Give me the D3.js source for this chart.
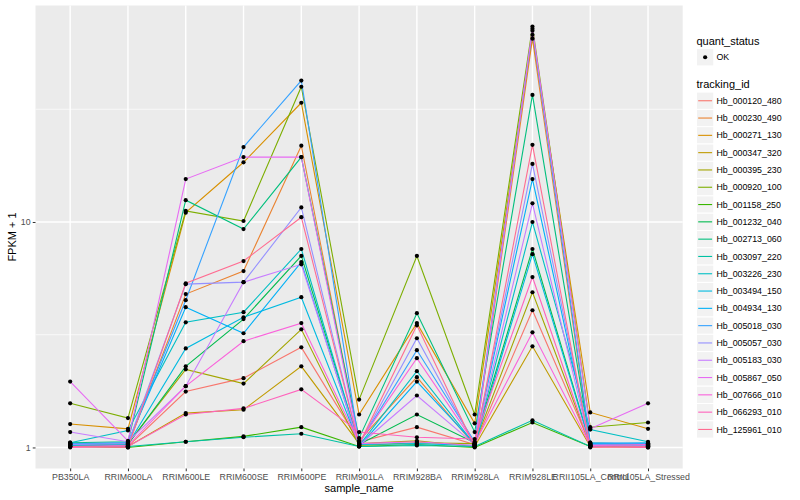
<!DOCTYPE html>
<html>
<head>
<meta charset="utf-8">
<script src="https://cdn.jsdelivr.net/npm/d3@7"></script>
<style>
  body { margin: 0; background: #fff; }
  text { font-family: "Liberation Sans", Arial, Helvetica, sans-serif; }
</style>
</head>
<body>
<svg id="chart" width="800" height="500"></svg>
<script>
var samples = ["PB350LA", "RRIM600LA", "RRIM600LE", "RRIM600SE", "RRIM600PE", "RRIM901LA",
    "RRIM928BA", "RRIM928LA", "RRIM928LE", "RRII105LA_Control", "RRII105LA_Stressed"];

var trackingIds = ["Hb_000120_480", "Hb_000230_490", "Hb_000271_130", "Hb_000347_320", "Hb_000395_230",
    "Hb_000920_100", "Hb_001158_250", "Hb_001232_040", "Hb_002713_060", "Hb_003097_220",
    "Hb_003226_230", "Hb_003494_150", "Hb_004934_130", "Hb_005018_030", "Hb_005057_030",
    "Hb_005183_030", "Hb_005867_050", "Hb_007666_010", "Hb_066293_010", "Hb_125961_010"];

var trackColors = ["#F8766D", "#EA8331", "#D89000", "#C09B00", "#A3A500", "#7CAE00", "#39B600",
    "#00BB4E", "#00BF7D", "#00C1A3", "#00BFC4", "#00BAE0", "#00B0F6", "#35A2FF", "#9590FF",
    "#C77CFF", "#E76BF3", "#FA62DB", "#FF62BC", "#FF6C91"];

// FPKM + 1, one row per tracking_id, one column per sample
var fpkmPlus1 = [
    [1.01, 1.01, 1.77, 2.03, 2.78, 1.06, 1.23, 1.03, 4.06, 1.03, 1.02],
    [1.04, 1.02, 4.79, 6.06, 21.8, 1.07, 2.05, 1.02, 65.0, 1.02, 1.01],
    [1.27, 1.21, 11.0, 18.4, 33.8, 1.40, 3.56, 1.28, 67.6, 1.43, 1.21],
    [1.03, 1.01, 1.42, 1.47, 2.29, 1.04, 1.07, 1.01, 2.81, 1.01, 1.00],
    [1.02, 1.04, 2.22, 1.92, 3.34, 1.02, 1.05, 1.04, 4.88, 1.02, 1.03],
    [1.57, 1.35, 11.2, 10.1, 39.8, 1.63, 7.07, 1.40, 73.6, 1.23, 1.29],
    [1.01, 1.00, 1.06, 1.12, 1.23, 1.01, 1.03, 1.00, 1.29, 1.01, 1.01],
    [1.04, 1.03, 2.29, 3.71, 7.07, 1.03, 1.40, 1.05, 7.59, 1.04, 1.02],
    [1.05, 1.06, 12.5, 9.30, 19.4, 1.10, 3.94, 1.17, 36.6, 1.05, 1.03],
    [1.03, 1.01, 1.06, 1.11, 1.15, 1.01, 1.02, 1.01, 1.32, 1.01, 1.04],
    [1.05, 1.19, 3.59, 3.98, 7.59, 1.02, 2.18, 1.03, 10.0, 1.20, 1.06],
    [1.02, 1.03, 2.75, 3.78, 4.64, 1.03, 1.04, 1.02, 7.20, 1.03, 1.04],
    [1.03, 1.05, 4.19, 3.21, 6.64, 1.01, 1.96, 1.04, 15.5, 1.04, 1.05],
    [1.04, 1.05, 4.50, 21.5, 42.4, 1.04, 2.70, 1.06, 70.5, 1.05, 1.04],
    [1.03, 1.04, 5.30, 5.41, 11.6, 1.03, 3.05, 1.03, 18.1, 1.03, 1.02],
    [1.17, 1.06, 1.87, 5.41, 6.49, 1.02, 1.70, 1.03, 12.1, 1.02, 1.01],
    [1.96, 1.07, 15.5, 19.4, 19.4, 1.04, 1.06, 1.02, 71.9, 1.21, 1.57],
    [1.01, 1.02, 1.87, 2.96, 3.56, 1.05, 2.49, 1.04, 3.24, 1.02, 1.03],
    [1.00, 1.01, 1.40, 1.49, 1.81, 1.17, 1.11, 1.09, 5.70, 1.01, 1.00],
    [1.01, 1.00, 5.35, 6.71, 10.5, 1.03, 3.48, 1.01, 22.0, 1.00, 1.01]
];

var yMajorTicks = [1, 10];
var yMinorTicks = [3.1623, 31.623];
var quantStatus = ["OK"];

var svg = d3.select("#chart");
var panelL = 35.5, panelR = 682.7, panelT = 5.5, panelB = 468.5;

svg.append("rect").attr("width", 800).attr("height", 500).attr("fill", "#fff");
svg.append("rect")
    .attr("x", panelL).attr("y", panelT)
    .attr("width", panelR - panelL).attr("height", panelB - panelT)
    .attr("fill", "#EBEBEB");

var x = d3.scalePoint().domain(samples).range([panelL, panelR]).padding(0.6);

// log scale with ggplot's 5% expansion in log space
var allVals = d3.merge(fpkmPlus1);
var lmin = Math.log10(d3.min(allVals)), lmax = Math.log10(d3.max(allVals));
var pad = (lmax - lmin) * 0.05;
var y = d3.scaleLog()
    .domain([Math.pow(10, lmin - pad), Math.pow(10, lmax + pad)])
    .range([panelB, panelT]);

// grid
svg.selectAll(".minor").data(yMinorTicks).enter().append("line")
    .attr("x1", panelL).attr("x2", panelR)
    .attr("y1", function(d) { return y(d); })
    .attr("y2", function(d) { return y(d); })
    .attr("stroke", "#fff").attr("stroke-width", 0.7);
svg.selectAll(".major").data(yMajorTicks).enter().append("line")
    .attr("x1", panelL).attr("x2", panelR)
    .attr("y1", function(d) { return y(d); })
    .attr("y2", function(d) { return y(d); })
    .attr("stroke", "#fff").attr("stroke-width", 1.4);
svg.selectAll(".vgrid").data(samples).enter().append("line")
    .attr("x1", function(d) { return x(d); })
    .attr("x2", function(d) { return x(d); })
    .attr("y1", panelT).attr("y2", panelB)
    .attr("stroke", "#fff").attr("stroke-width", 1.4);

// lines
var line = d3.line()
    .x(function(d, i) { return x(samples[i]); })
    .y(function(d) { return y(d); });

svg.selectAll(".series").data(fpkmPlus1).enter().append("path")
    .attr("d", line)
    .attr("fill", "none")
    .attr("stroke", function(d, i) { return trackColors[i]; })
    .attr("stroke-width", 1.1);

// points
fpkmPlus1.forEach(function(row) {
    svg.selectAll(null).data(row).enter().append("circle")
        .attr("cx", function(d, i) { return x(samples[i]); })
        .attr("cy", function(d) { return y(d); })
        .attr("r", 2.1)
        .attr("fill", "#000");
});

// axes
var xAxis = svg.append("g").attr("transform", "translate(0," + panelB + ")")
    .call(d3.axisBottom(x).tickSize(2.75).tickPadding(2.2));
var yAxis = svg.append("g").attr("transform", "translate(" + panelL + ",0)")
    .call(d3.axisLeft(y).tickValues(yMajorTicks).tickFormat(d3.format("d")).tickSize(2.75).tickPadding(2.2));
[xAxis, yAxis].forEach(function(g) {
    g.select(".domain").remove();
    g.selectAll(".tick line").attr("stroke", "#333");
    g.selectAll(".tick text").attr("fill", "#4D4D4D").attr("font-size", "8.8px")
        .style("font-family", "'Liberation Sans', Arial, sans-serif");
});

svg.append("text")
    .attr("x", (panelL + panelR) / 2).attr("y", 492)
    .attr("text-anchor", "middle").attr("font-size", "11px").attr("fill", "#000")
    .text("sample_name");
svg.append("text")
    .attr("transform", "translate(16," + ((panelT + panelB) / 2) + ") rotate(-90)")
    .attr("text-anchor", "middle").attr("font-size", "11px").attr("fill", "#000")
    .text("FPKM + 1");

// legends
var lx = 696.5, keyW = 17.3;
svg.append("text").attr("x", lx).attr("y", 44.5).attr("font-size", "11px").text("quant_status");
var okKey = svg.append("g").attr("transform", "translate(" + lx + "," + 48.6 + ")");
okKey.selectAll("rect").data(quantStatus).enter().append("rect")
    .attr("width", keyW).attr("height", keyW).attr("fill", "#F2F2F2").attr("stroke", "#fff");
okKey.append("circle").attr("cx", keyW / 2).attr("cy", keyW / 2).attr("r", 2.1).attr("fill", "#000");
okKey.append("text").attr("x", keyW + 2.7).attr("y", keyW / 2 + 3.1)
    .attr("font-size", "8.8px").attr("fill", "#000").text(quantStatus[0]);

svg.append("text").attr("x", lx).attr("y", 88).attr("font-size", "11px").text("tracking_id");
var keys = svg.selectAll(".tkey").data(trackingIds).enter().append("g")
    .attr("transform", function(d, i) { return "translate(" + lx + "," + (92.1 + i * keyW) + ")"; });
keys.append("rect").attr("width", keyW).attr("height", keyW)
    .attr("fill", "#F2F2F2").attr("stroke", "#fff");
keys.append("line").attr("x1", 1.7).attr("x2", keyW - 1.7)
    .attr("y1", keyW / 2).attr("y2", keyW / 2)
    .attr("stroke", function(d, i) { return trackColors[i]; }).attr("stroke-width", 1.1);
keys.append("text").attr("x", keyW + 2.7).attr("y", keyW / 2 + 3.1)
    .attr("font-size", "8.8px").attr("fill", "#000")
    .text(function(d) { return d; });
</script>
</body>
</html>
